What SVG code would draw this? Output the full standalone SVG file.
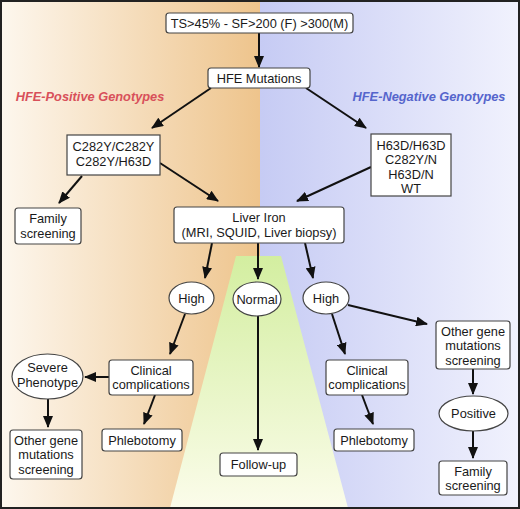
<svg xmlns="http://www.w3.org/2000/svg" width="520" height="509" viewBox="0 0 520 509">
<defs>
<linearGradient id="gL" x1="0" y1="0" x2="1" y2="0">
<stop offset="0" stop-color="#fdf7ee"/>
<stop offset="1" stop-color="#eec48c"/>
</linearGradient>
<linearGradient id="gR" x1="0" y1="0" x2="1" y2="0">
<stop offset="0" stop-color="#c6cbf4"/>
<stop offset="1" stop-color="#f1f2fd"/>
</linearGradient>
<linearGradient id="gG" x1="0" y1="0" x2="0" y2="1">
<stop offset="0" stop-color="#d3eea0"/>
<stop offset="1" stop-color="#fbfcea"/>
</linearGradient>
<marker id="ah" markerUnits="userSpaceOnUse" markerWidth="12" markerHeight="10" refX="11" refY="5" orient="auto">
<path d="M0,0 L12,5 L0,10 Z" fill="#111"/>
</marker>
</defs>
<style>
.b{fill:#fff;stroke:#444;stroke-width:1.2}
.t{font-family:"Liberation Sans",Arial,sans-serif;font-size:12.8px;fill:#1a1a1a;text-anchor:middle}
.h{font-family:"Liberation Sans",Arial,sans-serif;font-size:12.8px;font-weight:bold;font-style:italic;text-anchor:middle}
.c{stroke:#111;stroke-width:2;fill:none;marker-end:url(#ah)}
</style>
<rect x="0" y="0" width="260" height="509" fill="url(#gL)"/>
<rect x="260" y="0" width="260" height="509" fill="url(#gR)"/>
<polygon points="236,256 281,256 348,508 170,508" fill="url(#gG)"/>
<rect x="1" y="1" width="518" height="507" fill="none" stroke="#222" stroke-width="2"/>
<text class="h" x="90" y="101" fill="#d8505a">HFE-Positive Genotypes</text>
<text class="h" x="429" y="101" fill="#5565cc">HFE-Negative Genotypes</text>
<g id="connectors">
<line class="c" x1="259" y1="33" x2="259" y2="67"/>
<line class="c" x1="211" y1="88" x2="152" y2="128"/>
<line class="c" x1="306" y1="88" x2="366" y2="128"/>
<line class="c" x1="82" y1="176" x2="59" y2="203"/>
<line class="c" x1="160" y1="163" x2="218" y2="201"/>
<line class="c" x1="371" y1="167" x2="297" y2="201"/>
<line class="c" x1="212" y1="243" x2="205" y2="278"/>
<line class="c" x1="258" y1="243" x2="258" y2="279"/>
<line class="c" x1="305" y1="243" x2="313" y2="278"/>
<line class="c" x1="348" y1="305" x2="427" y2="324"/>
<line class="c" x1="332" y1="314" x2="345" y2="354"/>
<line class="c" x1="185" y1="314" x2="170" y2="354"/>
<line class="c" x1="109" y1="377" x2="85" y2="377"/>
<line class="c" x1="155" y1="395" x2="144" y2="424"/>
<line class="c" x1="48" y1="399" x2="48" y2="427"/>
<line class="c" x1="258" y1="316" x2="258" y2="450"/>
<line class="c" x1="362" y1="395" x2="373" y2="424"/>
<line class="c" x1="473" y1="369" x2="473" y2="394"/>
<line class="c" x1="473" y1="431" x2="473" y2="458"/>
</g>
<g id="n1"><rect class="b" x="166" y="13" width="187" height="20" rx="3"/><text class="t" x="259.5" y="27.5">TS&gt;45% - SF&gt;200 (F) &gt;300(M)</text></g>
<g id="n2"><rect class="b" x="208" y="68" width="102" height="20" rx="3"/><text class="t" x="259" y="82.5">HFE Mutations</text></g>
<g id="n3"><rect class="b" x="67" y="135" width="93" height="40" rx="0"/><text class="t" x="113.5" y="150.5">C282Y/C282Y</text><text class="t" x="113.5" y="165.5">C282Y/H63D</text></g>
<g id="n4"><rect class="b" x="371" y="134" width="80" height="62" rx="0"/><text class="t" x="411" y="149.5">H63D/H63D</text><text class="t" x="411" y="164">C282Y/N</text><text class="t" x="411" y="178.5">H63D/N</text><text class="t" x="411" y="193">WT</text></g>
<g id="n5"><rect class="b" x="15" y="208" width="66" height="36" rx="3"/><text class="t" x="48" y="223">Family</text><text class="t" x="48" y="237.5">screening</text></g>
<g id="n6"><rect class="b" x="174" y="207" width="170" height="36" rx="3"/><text class="t" x="259" y="222">Liver Iron</text><text class="t" x="259" y="236.5">(MRI, SQUID, Liver biopsy)</text></g>
<g id="n7"><ellipse class="b" cx="191.5" cy="298" rx="22.5" ry="16"/><text class="t" x="191.5" y="302.5">High</text></g>
<g id="n8"><ellipse class="b" cx="257" cy="299" rx="24" ry="17"/><text class="t" x="257" y="303.5">Normal</text></g>
<g id="n9"><ellipse class="b" cx="326" cy="298" rx="23" ry="16"/><text class="t" x="326" y="302.5">High</text></g>
<g id="n10"><rect class="b" x="436" y="321" width="74" height="48" rx="3"/><text class="t" x="473" y="335.5">Other gene</text><text class="t" x="473" y="350">mutations</text><text class="t" x="473" y="364.5">screening</text></g>
<g id="n11"><rect class="b" x="109" y="360" width="84" height="35" rx="3"/><text class="t" x="151" y="374.5">Clinical</text><text class="t" x="151" y="389">complications</text></g>
<g id="n12"><ellipse class="b" cx="47.5" cy="376.5" rx="35.5" ry="22.5"/><text class="t" x="47.5" y="372">Severe</text><text class="t" x="47.5" y="386.5">Phenotype</text></g>
<g id="n13"><rect class="b" x="10" y="430" width="72" height="49" rx="3"/><text class="t" x="46" y="444.5">Other gene</text><text class="t" x="46" y="459">mutations</text><text class="t" x="46" y="473.5">screening</text></g>
<g id="n14"><rect class="b" x="102" y="429" width="80" height="22" rx="3"/><text class="t" x="142" y="444.5">Phlebotomy</text></g>
<g id="n15"><rect class="b" x="220" y="453" width="77" height="23" rx="3"/><text class="t" x="258.5" y="469">Follow-up</text></g>
<g id="n16"><rect class="b" x="326" y="360" width="82" height="35" rx="3"/><text class="t" x="367" y="374.5">Clinical</text><text class="t" x="367" y="389">complications</text></g>
<g id="n17"><rect class="b" x="334" y="429" width="80" height="22" rx="3"/><text class="t" x="374" y="444.5">Phlebotomy</text></g>
<g id="n18"><ellipse class="b" cx="473.5" cy="413.5" rx="34.5" ry="17.5"/><text class="t" x="473.5" y="418">Positive</text></g>
<g id="n19"><rect class="b" x="439" y="461" width="68" height="34" rx="3"/><text class="t" x="473" y="475.5">Family</text><text class="t" x="473" y="490">screening</text></g>
</svg>
